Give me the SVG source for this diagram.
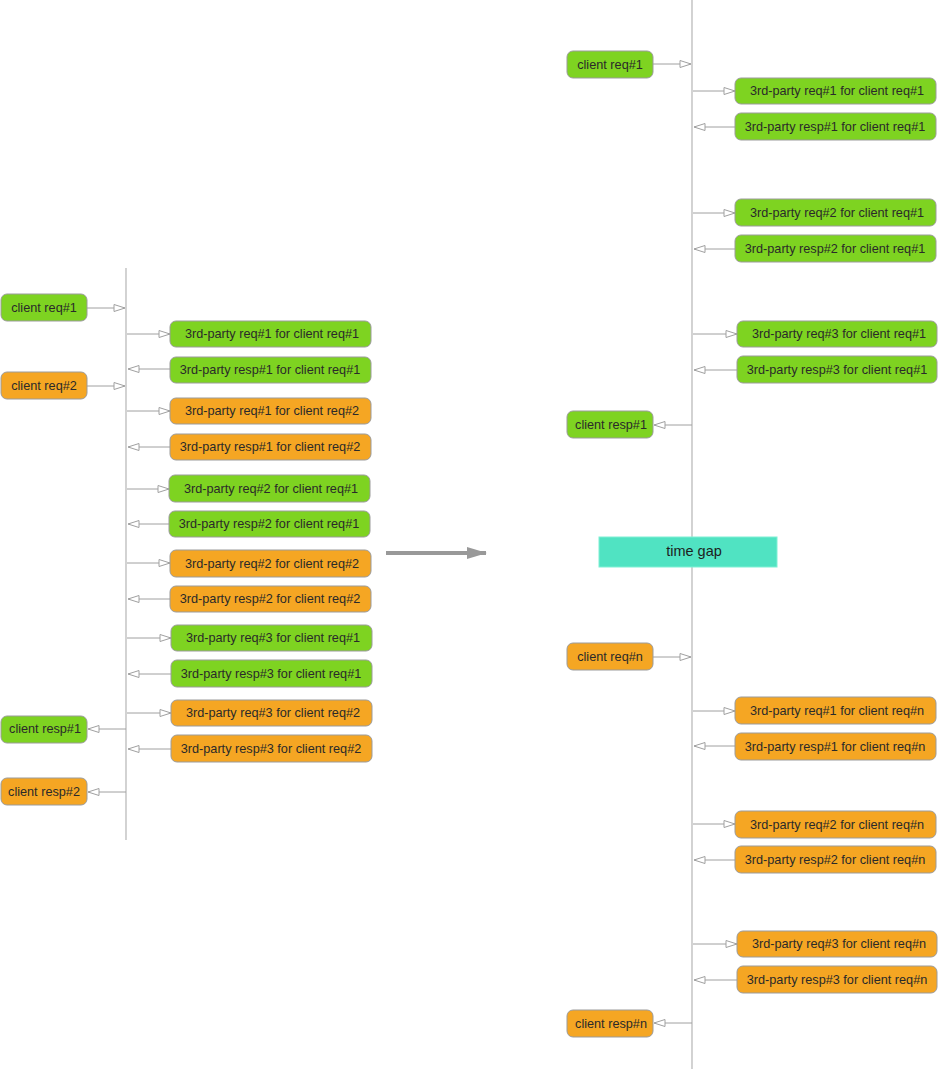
<svg xmlns="http://www.w3.org/2000/svg" width="938" height="1069" viewBox="0 0 938 1069">
<defs>
<style>
.g rect{fill:#7ED321;stroke:#9B9B9B;stroke-width:1}
.o rect{fill:#F5A623;stroke:#9B9B9B;stroke-width:1}
text{font-family:"Liberation Sans",Arial,sans-serif;font-size:12.7px;fill:#2A2A2A;text-anchor:middle;dominant-baseline:central}
.tl{stroke:#B5B5B5;stroke-width:1.2;fill:none}
.c line{stroke:#A0A0A0;stroke-width:1;marker-end:url(#oa)}
</style>
<marker id="oa" viewBox="0 0 13 9" refX="12" refY="4.5" markerWidth="13" markerHeight="9" markerUnits="userSpaceOnUse" orient="auto">
<path d="M1,1 L12,4.5 L1,8 Z" fill="#fff" stroke="#A0A0A0" stroke-width="1"/>
</marker>
<marker id="big" viewBox="0 0 20 12" refX="19" refY="6" markerWidth="20" markerHeight="12" markerUnits="userSpaceOnUse" orient="auto">
<path d="M0,0 L20,6 L0,12 Z" fill="#999"/>
</marker>
</defs>

<g id="timelines">
<line class="tl" x1="126" y1="268" x2="126" y2="840"/>
<line class="tl" x1="692" y1="0" x2="692" y2="1069"/>
</g>

<g id="connectors" class="c">
<line x1="87" y1="308" x2="125" y2="308"/>
<line x1="127" y1="334" x2="170" y2="334"/>
<line x1="170" y1="369" x2="128" y2="369"/>
<line x1="87" y1="386" x2="125" y2="386"/>
<line x1="127" y1="411" x2="170" y2="411"/>
<line x1="170" y1="447" x2="128" y2="447"/>
<line x1="127" y1="489" x2="169" y2="489"/>
<line x1="169" y1="524" x2="128" y2="524"/>
<line x1="127" y1="563" x2="170" y2="563"/>
<line x1="170" y1="599" x2="128" y2="599"/>
<line x1="127" y1="638" x2="171" y2="638"/>
<line x1="171" y1="674" x2="128" y2="674"/>
<line x1="127" y1="713" x2="171" y2="713"/>
<line x1="171" y1="749" x2="128" y2="749"/>
<line x1="126" y1="729" x2="88" y2="729"/>
<line x1="126" y1="792" x2="88" y2="792"/>
<line x1="653" y1="64" x2="691" y2="64"/>
<line x1="693" y1="91" x2="735" y2="91"/>
<line x1="735" y1="127" x2="694" y2="127"/>
<line x1="693" y1="213" x2="735" y2="213"/>
<line x1="735" y1="249" x2="694" y2="249"/>
<line x1="693" y1="334" x2="737" y2="334"/>
<line x1="737" y1="370" x2="694" y2="370"/>
<line x1="692" y1="425" x2="654" y2="425"/>
<line x1="653" y1="657" x2="691" y2="657"/>
<line x1="693" y1="711" x2="735" y2="711"/>
<line x1="735" y1="746" x2="694" y2="746"/>
<line x1="693" y1="824" x2="735" y2="824"/>
<line x1="735" y1="860" x2="694" y2="860"/>
<line x1="693" y1="944" x2="737" y2="944"/>
<line x1="737" y1="980" x2="694" y2="980"/>
<line x1="692" y1="1023" x2="654" y2="1023"/>
</g>

<g id="transform-arrow">
<line x1="386" y1="553" x2="486" y2="553" stroke="#999" stroke-width="4" marker-end="url(#big)"/>
</g>

<g id="l-creq1" class="g"><rect x="1" y="294" width="86" height="27" rx="6"/><text x="44" y="308">client req#1</text></g>
<g id="l-r1c1" class="g"><rect x="170" y="321" width="201" height="26" rx="6"/><text x="272" y="334">3rd-party req#1 for client req#1</text></g>
<g id="l-s1c1" class="g"><rect x="170" y="357" width="201" height="26" rx="6"/><text x="270" y="370">3rd-party resp#1 for client req#1</text></g>
<g id="l-creq2" class="o"><rect x="1" y="372" width="86" height="27" rx="6"/><text x="44" y="386">client req#2</text></g>
<g id="l-r1c2" class="o"><rect x="170" y="398" width="201" height="26" rx="6"/><text x="272" y="411">3rd-party req#1 for client req#2</text></g>
<g id="l-s1c2" class="o"><rect x="170" y="434" width="201" height="26" rx="6"/><text x="270" y="447">3rd-party resp#1 for client req#2</text></g>
<g id="l-r2c1" class="g"><rect x="169" y="475" width="201" height="27" rx="6"/><text x="271" y="489">3rd-party req#2 for client req#1</text></g>
<g id="l-s2c1" class="g"><rect x="169" y="511" width="201" height="26" rx="6"/><text x="269" y="524">3rd-party resp#2 for client req#1</text></g>
<g id="l-r2c2" class="o"><rect x="170" y="550" width="201" height="27" rx="6"/><text x="272" y="564">3rd-party req#2 for client req#2</text></g>
<g id="l-s2c2" class="o"><rect x="170" y="586" width="201" height="26" rx="6"/><text x="270" y="599">3rd-party resp#2 for client req#2</text></g>
<g id="l-r3c1" class="g"><rect x="171" y="625" width="201" height="26" rx="6"/><text x="273" y="638">3rd-party req#3 for client req#1</text></g>
<g id="l-s3c1" class="g"><rect x="171" y="660" width="201" height="27" rx="6"/><text x="271" y="674">3rd-party resp#3 for client req#1</text></g>
<g id="l-r3c2" class="o"><rect x="171" y="700" width="201" height="26" rx="6"/><text x="273" y="713">3rd-party req#3 for client req#2</text></g>
<g id="l-s3c2" class="o"><rect x="171" y="735" width="201" height="27" rx="6"/><text x="271" y="749">3rd-party resp#3 for client req#2</text></g>
<g id="l-cresp1" class="g"><rect x="1" y="716" width="86" height="27" rx="6"/><text x="45" y="729">client resp#1</text></g>
<g id="l-cresp2" class="o"><rect x="1" y="778" width="86" height="27" rx="6"/><text x="44" y="792">client resp#2</text></g>

<g id="r-creq1" class="g"><rect x="567" y="51" width="86" height="27" rx="6"/><text x="610" y="65">client req#1</text></g>
<g id="r-r1c1" class="g"><rect x="735" y="78" width="201" height="26" rx="6"/><text x="837" y="91">3rd-party req#1 for client req#1</text></g>
<g id="r-s1c1" class="g"><rect x="735" y="113" width="201" height="27" rx="6"/><text x="835" y="127">3rd-party resp#1 for client req#1</text></g>
<g id="r-r2c1" class="g"><rect x="735" y="199" width="201" height="27" rx="6"/><text x="837" y="213">3rd-party req#2 for client req#1</text></g>
<g id="r-s2c1" class="g"><rect x="735" y="235" width="201" height="27" rx="6"/><text x="835" y="249">3rd-party resp#2 for client req#1</text></g>
<g id="r-r3c1" class="g"><rect x="737" y="321" width="200" height="26" rx="6"/><text x="839" y="334">3rd-party req#3 for client req#1</text></g>
<g id="r-s3c1" class="g"><rect x="737" y="356" width="200" height="27" rx="6"/><text x="837" y="370">3rd-party resp#3 for client req#1</text></g>
<g id="r-cresp1" class="g"><rect x="567" y="411" width="86" height="27" rx="6"/><text x="611" y="425">client resp#1</text></g>
<g id="r-timegap"><rect x="599" y="537" width="178" height="30" fill="#50E3C2" stroke="#7FF0D4" stroke-width="1"/><text x="694" y="551" style="font-size:14.5px;fill:#1E1E1E">time gap</text></g>
<g id="r-creqn" class="o"><rect x="567" y="643" width="86" height="27" rx="6"/><text x="610" y="657">client req#n</text></g>
<g id="r-r1cn" class="o"><rect x="735" y="697" width="201" height="27" rx="6"/><text x="837" y="711">3rd-party req#1 for client req#n</text></g>
<g id="r-s1cn" class="o"><rect x="735" y="733" width="201" height="27" rx="6"/><text x="835" y="747">3rd-party resp#1 for client req#n</text></g>
<g id="r-r2cn" class="o"><rect x="735" y="811" width="201" height="27" rx="6"/><text x="837" y="825">3rd-party req#2 for client req#n</text></g>
<g id="r-s2cn" class="o"><rect x="735" y="846" width="201" height="27" rx="6"/><text x="835" y="860">3rd-party resp#2 for client req#n</text></g>
<g id="r-r3cn" class="o"><rect x="737" y="931" width="200" height="26" rx="6"/><text x="839" y="944">3rd-party req#3 for client req#n</text></g>
<g id="r-s3cn" class="o"><rect x="737" y="966" width="200" height="27" rx="6"/><text x="837" y="980">3rd-party resp#3 for client req#n</text></g>
<g id="r-crespn" class="o"><rect x="567" y="1010" width="86" height="27" rx="6"/><text x="611" y="1024">client resp#n</text></g>
</svg>
